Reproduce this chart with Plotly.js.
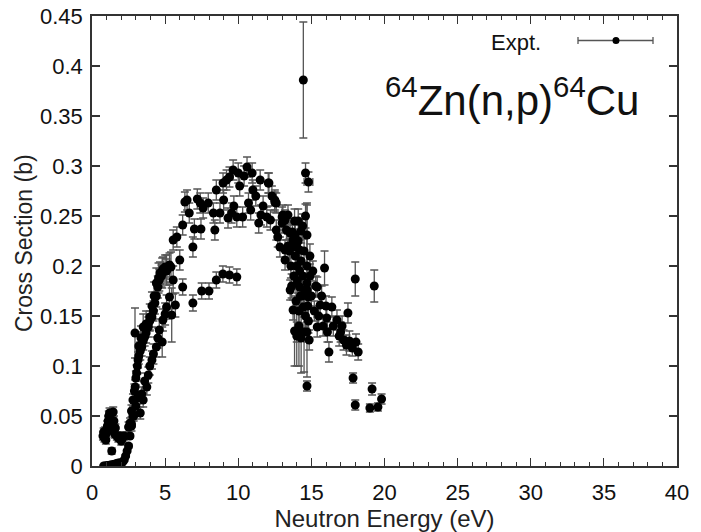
<!DOCTYPE html>
<html>
<head>
<meta charset="utf-8">
<script src="https://cdn.plot.ly/plotly-3.0.1.min.js"></script>
<style>html,body{margin:0;padding:0;background:#fff;}#chart{width:701px;height:532px;}</style>
</head>
<body>
<div id="chart"></div>
<script>
// Neutron energy (as labelled), cross section (b), y-uncertainty
const energy = [
  // low-energy bump
  0.75,0.8,0.85,0.9,0.95,1.0,1.05,1.1,1.15,1.2,1.25,1.3,1.35,1.4,1.45,1.5,1.55,1.6,1.7,1.8,1.9,2.0,2.1,2.2,
  // near-threshold curve
  0.8,0.9,1.0,1.1,1.2,1.3,1.4,1.5,1.6,1.7,1.8,1.9,2.0,2.1,2.2,2.3,2.4,2.5,2.6,2.7,2.8,
  // rising band
  2.5,2.6,2.7,2.8,2.9,2.95,3.0,3.05,3.1,3.15,3.2,3.3,3.4,3.5,3.6,3.7,3.85,3.95,4.1,4.2,4.3,4.4,4.5,4.6,4.65,4.75,4.85,5.0,5.1,5.3,
  2.7,2.85,3.0,3.1,3.3,3.4,3.5,3.6,3.75,3.85,3.95,4.1,4.2,4.4,4.5,4.6,4.8,4.85,5.0,5.1,5.3,5.45,5.7,
  2.94,3.2,3.35,3.5,3.7,3.95,4.1,4.25,4.4,4.55,4.8,5.1,5.4,5.55,
  // upper hump
  5.55,5.8,6.0,6.2,6.35,6.5,6.65,6.9,7.0,7.2,7.4,7.45,7.6,7.95,8.3,8.4,8.5,8.75,8.96,9.0,9.2,9.3,9.4,9.55,9.65,9.7,9.9,10.0,10.1,10.3,10.4,10.6,10.7,10.85,10.95,11.0,11.2,11.4,11.5,11.55,11.7,11.95,12.05,12.2,12.3,12.5,12.6,12.6,12.7,12.85,13.0,13.2,13.2,13.3,13.55,13.75,14.0,
  // middle plateau
  6.2,6.9,7.5,8.0,8.5,8.95,9.4,9.9,
  // fall-off region
  14.45,14.6,14.8,14.7,14.7,13.85,14.0,14.15,14.3,14.5,
  12.1,12.5,13.05,13.4,13.0,13.7,13.9,13.2,13.75,14.2,15.9,15.1,18.0,19.3,13.55,14.2,14.7,15.4,13.75,14.45,14.8,15.6,16.4,17.5,16.05,16.75,15.4,14.0,14.7,16.1,17.0,17.2,14.85,17.4,17.8,18.05,18.2,16.2,17.85,14.7,19.15,18.0,19.0,19.55,19.8,
  13.6,13.8,13.9,14.0,14.05,14.1,14.2,14.3,14.35,14.4,14.5,14.55,14.6,14.7,14.75,14.8,14.9,13.95,14.15,14.25,13.65,13.5,13.4,14.4,14.3,14.1,14.6,13.85,14.9,15.0,15.2,15.3,15.5,15.7,15.8,16.0,16.5,16.9,17.1,17.6
];
const crossSection = [
  0.030,0.034,0.028,0.035,0.026,0.033,0.040,0.045,0.050,0.053,0.048,0.042,0.015,0.037,0.054,0.045,0.032,0.038,0.030,0.028,0.030,0.025,0.028,0.030,
  0.000,0.000,0.0003,0.0005,0.0008,0.001,0.0012,0.0015,0.002,0.0025,0.003,0.003,0.003,0.004,0.006,0.010,0.015,0.020,0.030,0.042,0.050,
  0.039,0.043,0.055,0.066,0.075,0.079,0.088,0.093,0.100,0.106,0.110,0.115,0.119,0.125,0.129,0.133,0.139,0.145,0.149,0.155,0.163,0.170,0.179,0.186,0.193,0.190,0.197,0.199,0.195,0.201,
  0.040,0.050,0.060,0.068,0.053,0.072,0.066,0.085,0.079,0.091,0.100,0.106,0.112,0.119,0.128,0.136,0.124,0.146,0.152,0.159,0.169,0.151,0.161,
  0.133,0.120,0.128,0.139,0.142,0.149,0.160,0.170,0.183,0.188,0.193,0.196,0.199,0.186,
  0.226,0.229,0.206,0.241,0.264,0.266,0.253,0.219,0.237,0.267,0.263,0.237,0.258,0.263,0.253,0.236,0.276,0.253,0.283,0.266,0.286,0.248,0.289,0.253,0.296,0.260,0.249,0.293,0.280,0.249,0.290,0.299,0.263,0.256,0.293,0.276,0.270,0.243,0.286,0.251,0.260,0.249,0.283,0.246,0.270,0.266,0.263,0.236,0.229,0.219,0.249,0.246,0.206,0.236,0.233,0.226,0.219,
  0.179,0.163,0.175,0.175,0.186,0.192,0.191,0.189,
  0.386,0.293,0.284,0.231,0.176,0.135,0.130,0.140,0.128,0.134,
  0.283,0.264,0.251,0.251,0.243,0.234,0.231,0.216,0.219,0.216,0.198,0.195,0.187,0.180,0.176,0.179,0.183,0.179,0.156,0.159,0.169,0.161,0.159,0.153,0.148,0.146,0.139,0.134,0.134,0.134,0.134,0.126,0.126,0.121,0.118,0.124,0.114,0.114,0.088,0.080,0.077,0.061,0.058,0.059,0.067,
  0.200,0.190,0.210,0.200,0.185,0.225,0.195,0.205,0.170,0.190,0.215,0.175,0.150,0.200,0.160,0.145,0.190,0.165,0.155,0.170,0.180,0.215,0.220,0.240,0.235,0.245,0.250,0.245,0.210,0.170,0.155,0.180,0.150,0.170,0.140,0.160,0.140,0.130,0.140,0.125
];
const crossSectionErr = [
  0.004,0.004,0.004,0.004,0.004,0.004,0.005,0.005,0.005,0.005,0.005,0.005,0.003,0.004,0.005,0.005,0.004,0.004,0.004,0.004,0.004,0.004,0.004,0.004,
  0.0005,0.0005,0.0005,0.0005,0.0005,0.0005,0.0005,0.0005,0.0005,0.0005,0.0005,0.0005,0.0005,0.001,0.001,0.001,0.001,0.002,0.002,0.003,0.003,
  0.005,0.005,0.006,0.006,0.007,0.007,0.007,0.008,0.008,0.008,0.008,0.009,0.009,0.009,0.009,0.010,0.010,0.010,0.010,0.010,0.011,0.011,0.011,0.011,0.011,0.011,0.012,0.012,0.012,0.012,
  0.005,0.005,0.006,0.006,0.006,0.007,0.007,0.008,0.008,0.008,0.009,0.009,0.010,0.010,0.010,0.011,0.015,0.011,0.011,0.012,0.012,0.027,0.012,
  0.025,0.012,0.012,0.013,0.013,0.013,0.014,0.014,0.015,0.015,0.015,0.015,0.015,0.014,
  0.010,0.010,0.010,0.010,0.010,0.010,0.010,0.010,0.010,0.010,0.010,0.010,0.010,0.010,0.010,0.010,0.010,0.010,0.010,0.010,0.010,0.010,0.010,0.010,0.010,0.010,0.010,0.010,0.010,0.010,0.010,0.010,0.010,0.010,0.010,0.010,0.010,0.010,0.010,0.010,0.010,0.010,0.010,0.010,0.010,0.010,0.010,0.010,0.010,0.010,0.010,0.010,0.010,0.010,0.010,0.010,0.010,
  0.008,0.008,0.008,0.008,0.008,0.008,0.008,0.008,
  0.058,0.010,0.010,0.030,0.087,0.035,0.030,0.040,0.035,0.040,
  0.010,0.010,0.010,0.010,0.010,0.010,0.010,0.010,0.010,0.010,0.017,0.010,0.017,0.016,0.010,0.010,0.010,0.010,0.010,0.010,0.010,0.010,0.010,0.010,0.010,0.010,0.010,0.010,0.010,0.010,0.010,0.010,0.010,0.010,0.008,0.008,0.008,0.010,0.005,0.005,0.006,0.005,0.004,0.004,0.005,
  0.012,0.012,0.012,0.012,0.012,0.012,0.012,0.012,0.012,0.012,0.012,0.012,0.012,0.012,0.012,0.012,0.012,0.012,0.012,0.012,0.012,0.012,0.012,0.012,0.012,0.012,0.012,0.012,0.012,0.010,0.010,0.010,0.010,0.010,0.010,0.010,0.010,0.010,0.010,0.010
];
// points with a visible horizontal uncertainty: [energy, cross section, energy error]
const energyErrPoints = [[14.8, 0.284, 0.3]];

const legendLabel = "Expt.";
const reactionLabel = "<sup>64</sup>Zn(n,p)<sup>64</sup>Cu";
const xTitle = "Neutron Energy (eV)";
const yTitle = "Cross Section (b)";

const energyErr = energy.map((e, i) => {
  const m = energyErrPoints.find(p => p[0] === e && p[1] === crossSection[i]);
  return m ? m[2] : 0;
});

const FONT = "Liberation Sans, Arial, sans-serif";
const trace = {
  type: "scatter",
  mode: "markers",
  x: energy,
  y: crossSection,
  marker: {color: "#000", size: 9},
  error_y: {type: "data", array: crossSectionErr, visible: true, color: "#555", thickness: 1.3, width: 4},
  error_x: {type: "data", array: energyErr, visible: true, color: "#555", thickness: 1.3, width: 4},
  showlegend: false,
  hoverinfo: "x+y"
};

const L = 92, R = 677, T = 16, B = 466;
const pw = R - L, ph = B - T;
const px = v => (v - L) / pw;
const py = v => (B - v) / ph;

const axisCommon = {
  showline: true, linecolor: "#333", linewidth: 1.8, mirror: "allticks",
  ticks: "inside", tickcolor: "#333", tickwidth: 1.2, ticklen: 8,
  showgrid: false, zeroline: false,
  tickfont: {family: FONT, size: 22, color: "#111"}
};

const layout = {
  width: 701, height: 532,
  margin: {l: L, r: 701 - R, t: T, b: 532 - B, pad: 0},
  paper_bgcolor: "#fff", plot_bgcolor: "#fff",
  showlegend: false,
  xaxis: Object.assign({}, axisCommon, {
    range: [0, 40], dtick: 5, tick0: 0,
    minor: {dtick: 1, ticks: "inside", ticklen: 4, tickcolor: "#333", tickwidth: 1},
    ticklabelstandoff: 6,
    title: {text: xTitle, font: {family: FONT, size: 24, color: "#222"}, standoff: 4}
  }),
  yaxis: Object.assign({}, axisCommon, {
    range: [0, 0.45], dtick: 0.05, tick0: 0,
    ticklabelstandoff: 3
  }),
  annotations: [
    {xref: "paper", yref: "paper", x: px(24), y: py(243), xanchor: "center", yanchor: "middle", textangle: -90,
     text: yTitle, showarrow: false, font: {family: FONT, size: 23, color: "#222"}},
    {xref: "paper", yref: "paper", x: px(543), y: py(42), xanchor: "right", yanchor: "middle",
     text: legendLabel, showarrow: false, font: {family: FONT, size: 22, color: "#111"}},
    {xref: "paper", yref: "paper", x: px(641), y: py(97), xanchor: "right", yanchor: "middle",
     text: reactionLabel, showarrow: false, font: {family: FONT, size: 42, color: "#111"}}
  ],
  shapes: [
    {type: "line", xref: "paper", yref: "paper", x0: px(578), x1: px(653), y0: py(40.5), y1: py(40.5), line: {color: "#555", width: 1.3}},
    {type: "line", xref: "paper", yref: "paper", x0: px(578), x1: px(578), y0: py(37), y1: py(44), line: {color: "#555", width: 1.3}},
    {type: "line", xref: "paper", yref: "paper", x0: px(653), x1: px(653), y0: py(37), y1: py(44), line: {color: "#555", width: 1.3}},
    {type: "circle", xref: "paper", yref: "paper", x0: px(612.5), x1: px(619.5), y0: py(37), y1: py(44), fillcolor: "#000", line: {color: "#000", width: 0}}
  ]
};

Plotly.newPlot("chart", [trace], layout, {staticPlot: true, displayModeBar: false});
</script>
</body>
</html>
